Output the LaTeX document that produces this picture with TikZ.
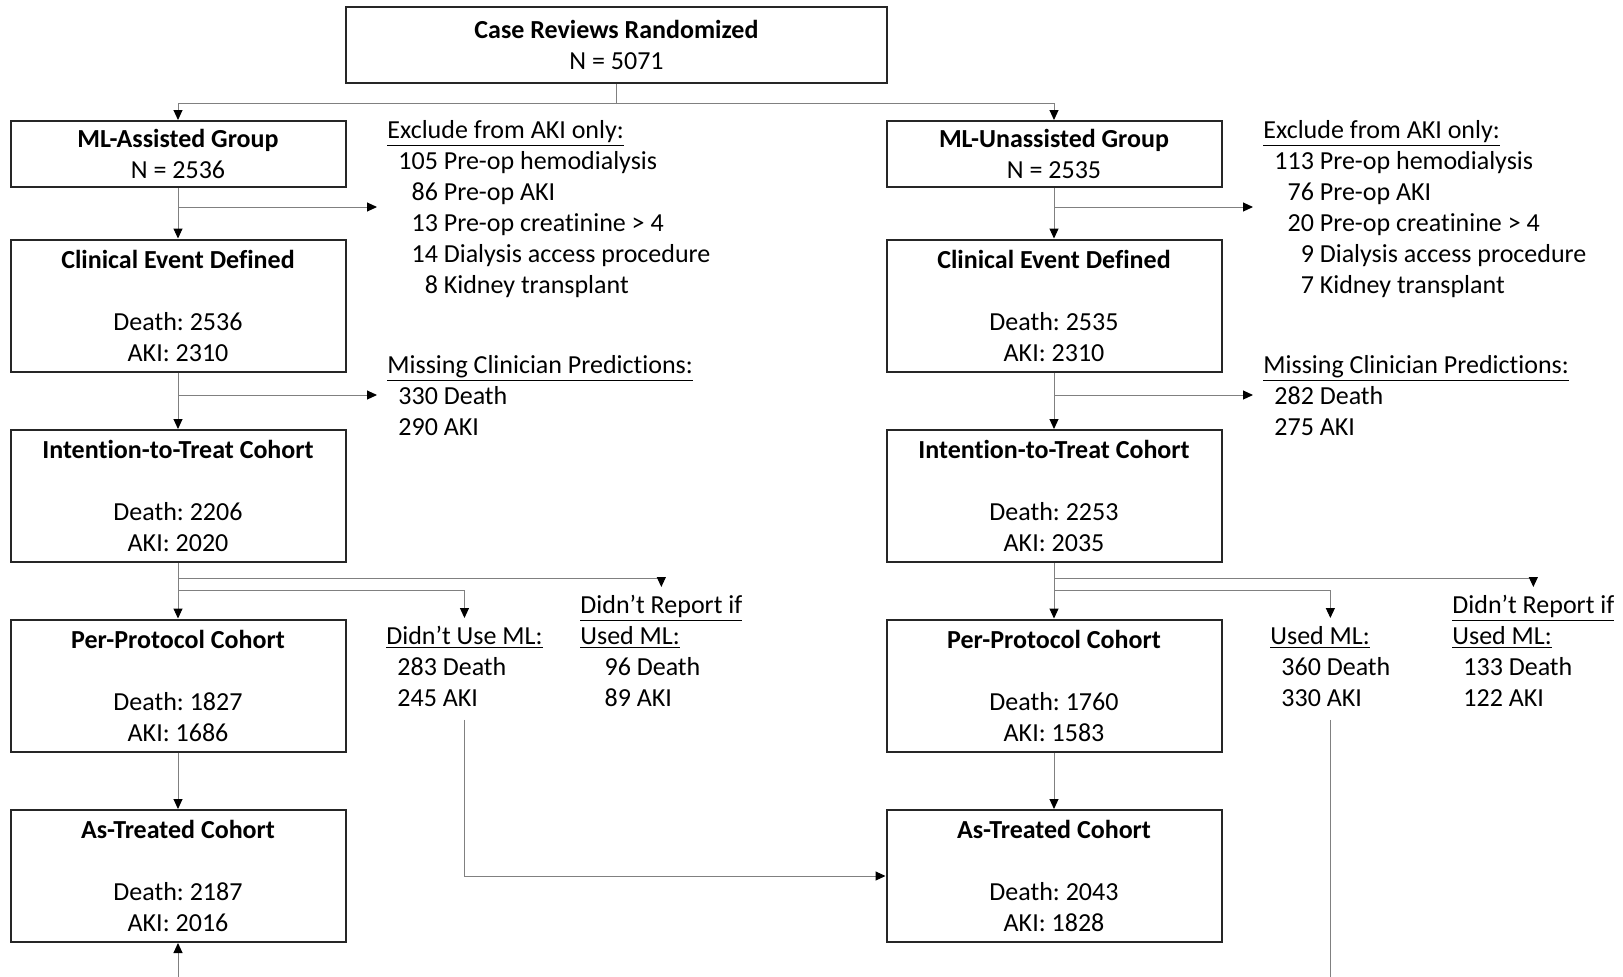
\documentclass[tikz,border=0pt]{standalone}
\usepackage{fontspec}
\setmainfont{Carlito}[Ligatures=NoCommon]
\usetikzlibrary{arrows.meta,positioning}
\newcommand{\hd}[1]{\underline{#1}}
\frenchspacing

\begin{document}
\begin{tikzpicture}[x=.5pt,y=-.5pt,>={Triangle[length=5pt,width=4.5pt,color=black]},
  every node/.style={font=\fontsize{13}{15.5}\selectfont},
  box/.style={draw=black!85,line width=1pt,minimum width=167.5pt,minimum height=66pt,align=center,inner sep=0pt},
  grp/.style={box,minimum height=33pt},
  note/.style={inner sep=2pt,anchor=north west},
  link/.style={->,draw=black!50,line width=.5pt}]
\useasboundingbox (0,0) rectangle (1623,976);
\clip (0,0) rectangle (1623,976);
% boxes
\node[box,minimum width=270.5pt,minimum height=38pt] (rand) at (616.5,45) {\textbf{Case Reviews Randomized}\\N = 5071};
\node[grp] (lgrp) at (178,154) {\textbf{ML-Assisted Group}\\N = 2536};
\node[box] (lcev) at (178,305.5) {\textbf{Clinical Event Defined}\\[15.5pt]Death: 2536\\AKI: 2310};
\node[box] (litt) at (178,496) {\textbf{Intention-to-Treat Cohort}\\[15.5pt]Death: 2206\\AKI: 2020};
\node[box] (lpp) at (178,685.5) {\textbf{Per-Protocol Cohort}\\[15.5pt]Death: 1827\\AKI: 1686};
\node[box] (lat) at (178,876) {\textbf{As-Treated Cohort}\\[15.5pt]Death: 2187\\AKI: 2016};
\node[grp] (rgrp) at (1054,154) {\textbf{ML-Unassisted Group}\\N = 2535};
\node[box] (rcev) at (1054,305.5) {\textbf{Clinical Event Defined}\\[15.5pt]Death: 2535\\AKI: 2310};
\node[box] (ritt) at (1054,496) {\textbf{Intention-to-Treat Cohort}\\[15.5pt]Death: 2253\\AKI: 2035};
\node[box] (rpp) at (1054,685.5) {\textbf{Per-Protocol Cohort}\\[15.5pt]Death: 1760\\AKI: 1583};
\node[box] (rat) at (1054,876) {\textbf{As-Treated Cohort}\\[15.5pt]Death: 2043\\AKI: 1828};
% side notes
\node[note] (lexcl) at (383,112) {\begin{tabular}{@{\hspace{5.5pt}}r@{ }l@{}}\multicolumn{2}{@{}l@{}}{\hd{Exclude from AKI only:}}\\105&Pre-op hemodialysis\\86&Pre-op AKI\\13&Pre-op creatinine > 4\\14&Dialysis access procedure\\8&Kidney transplant\end{tabular}};
\node[note] (lmiss) at (383,347) {\begin{tabular}{@{\hspace{5.5pt}}r@{ }l@{}}\multicolumn{2}{@{}l@{}}{\hd{Missing Clinician Predictions:}}\\330&Death\\290&AKI\end{tabular}};
\node[note] (ldu) at (382,618) {\begin{tabular}{@{\hspace{5.5pt}}r@{ }l@{}}\multicolumn{2}{@{}l@{}}{\hd{Didn’t Use ML:}}\\283&Death\\245&AKI\end{tabular}};
\node[note] (ldr) at (576,587) {\begin{tabular}{@{\hspace{5.5pt}}r@{ }l@{}}\multicolumn{2}{@{}l@{}}{\hd{Didn’t Report if}}\\\multicolumn{2}{@{}l@{}}{\hd{Used ML:}}\\\phantom{0}96&Death\\\phantom{0}89&AKI\end{tabular}};
\node[note] (rexcl) at (1259,112) {\begin{tabular}{@{\hspace{5.5pt}}r@{ }l@{}}\multicolumn{2}{@{}l@{}}{\hd{Exclude from AKI only:}}\\113&Pre-op hemodialysis\\76&Pre-op AKI\\20&Pre-op creatinine > 4\\9&Dialysis access procedure\\7&Kidney transplant\end{tabular}};
\node[note] (rmiss) at (1259,347) {\begin{tabular}{@{\hspace{5.5pt}}r@{ }l@{}}\multicolumn{2}{@{}l@{}}{\hd{Missing Clinician Predictions:}}\\282&Death\\275&AKI\end{tabular}};
\node[note] (rused) at (1266,618) {\begin{tabular}{@{\hspace{5.5pt}}r@{ }l@{}}\multicolumn{2}{@{}l@{}}{\hd{Used ML:}}\\360&Death\\330&AKI\end{tabular}};
\node[note] (rdr) at (1448,587) {\begin{tabular}{@{\hspace{5.5pt}}r@{ }l@{}}\multicolumn{2}{@{}l@{}}{\hd{Didn’t Report if}}\\\multicolumn{2}{@{}l@{}}{\hd{Used ML:}}\\133&Death\\122&AKI\end{tabular}};
% connectors
\draw[link] (rand.south) -- ++(0,19) coordinate (split) -| (lgrp.north);
\draw[link] (split) -| (rgrp.north);
\draw[link] (lgrp) -- (lcev);
\draw[link] (rgrp) -- (rcev);
\coordinate (lx) at (178,207);
\coordinate (rx) at (1054,207);
\draw[link] (lx) -- ([xshift=-3pt]lx -| lexcl.west);
\draw[link] (rx) -- ([xshift=-3pt]rx -| rexcl.west);
\draw[link] (lcev) -- (litt);
\draw[link] (rcev) -- (ritt);
\coordinate (lm) at (178,395);
\coordinate (rm) at (1054,395);
\draw[link] (lm) -- ([xshift=-3pt]lm -| lmiss.west);
\draw[link] (rm) -- ([xshift=-3pt]rm -| rmiss.west);
\draw[link] (litt) -- (lpp);
\draw[link] (litt.south) -- ++(0,15) -| (ldr.north);
\draw[link] (litt.south) -- ++(0,27) -| (ldu.north);
\draw[link] (ritt) -- (rpp);
\draw[link] (ritt.south) -- ++(0,15) -| (rdr.north);
\draw[link] (ritt.south) -- ++(0,27) -| (rused.north);
\draw[link] (lpp) -- (lat);
\draw[link] (rpp) -- (rat);
\draw[link] (ldu.south) |- (rat.west);
\draw[link] (rused.south) -- ++(0,420) -| (lat.south);
\end{tikzpicture}
\end{document}
